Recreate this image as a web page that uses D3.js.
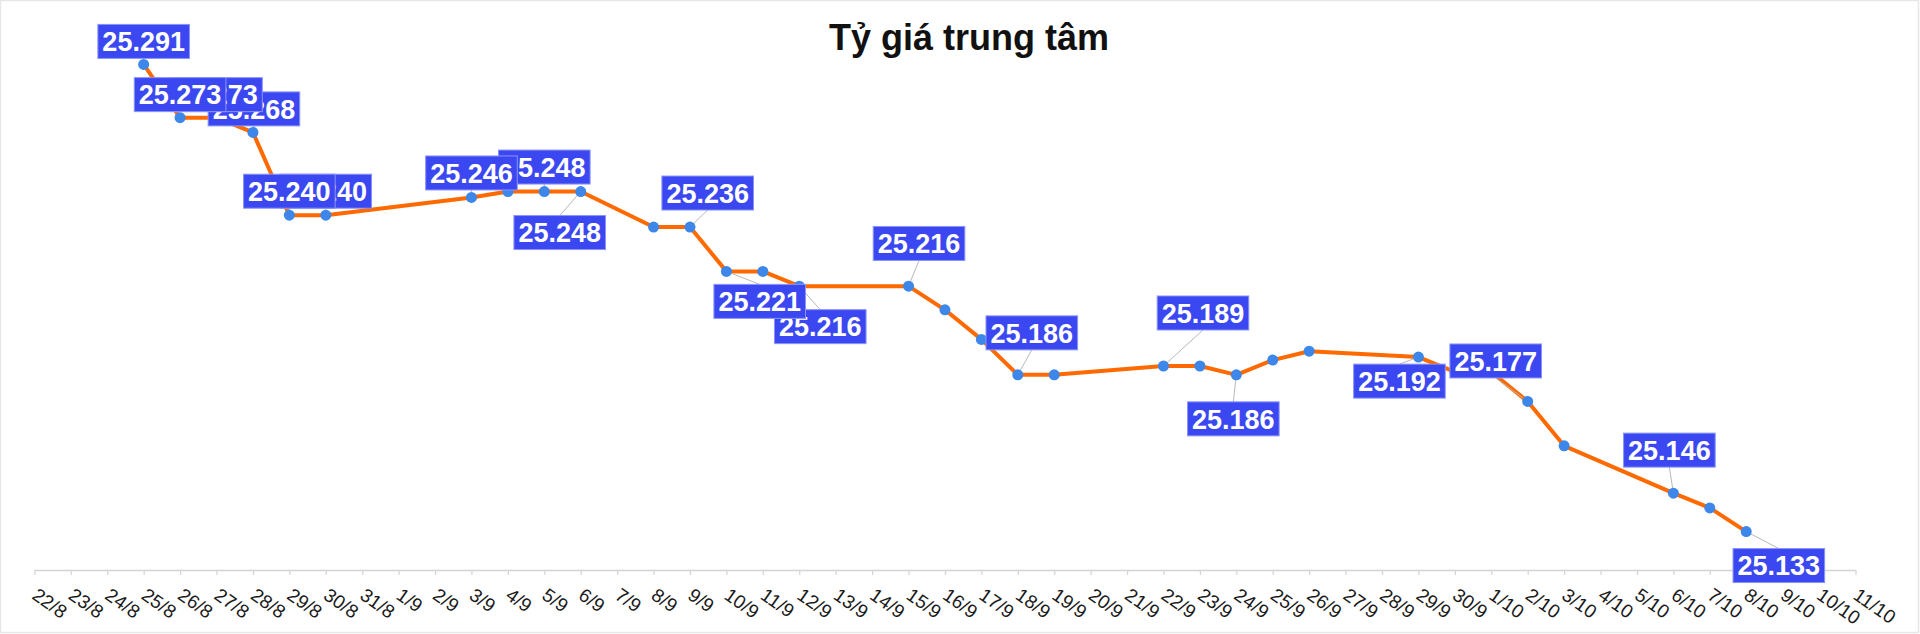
<!DOCTYPE html>
<html>
<head>
<meta charset="utf-8">
<script src="https://cdn.jsdelivr.net/npm/d3@7"></script>
<style>
  html, body { margin: 0; padding: 0; background: #ffffff; }
  svg { display: block; }
</style>
</head>
<body>
<svg id="chart" width="1920" height="634"></svg>
<script>
// ---- data ----
const chartTitle = "Tỷ giá trung tâm";
const dateLabels = ["25/8","26/8","27/8","28/8","29/8","30/8","3/9","4/9","5/9","6/9","8/9","9/9","10/9","11/9","12/9","15/9","16/9","17/9","18/9","19/9","22/9","23/9","24/9","25/9","26/9","29/9","30/9","1/10","2/10","3/10","6/10","7/10","8/10"];
const rates = [25.291,25.273,25.273,25.268,25.240,25.240,25.246,25.248,25.248,25.248,25.236,25.236,25.221,25.221,25.216,25.216,25.208,25.198,25.186,25.186,25.189,25.189,25.186,25.191,25.194,25.192,25.187,25.187,25.177,25.162,25.146,25.141,25.133];
const axisStart = "22/8";
const axisEnd = "11/10";
const yDomain = [25.12, 25.30];
const labelledDates = ["25/8","26/8","27/8","28/8","29/8","30/8","3/9","5/9","6/9","9/9","10/9","12/9","15/9","18/9","22/9","24/9","29/9","2/10","6/10","8/10"];
// layout: label box centre offset from its point (px)
const labelOffsets = [[0,-23],[0,-23],[0,-23],[1,-23.5],[0,-24],[0,-24],[0,-24.5],[0,-24.5],[-21,41],[17.7,-34],[33.3,30],[21,40.5],[10.5,-42.7],[14,-42],[39.5,-53],[-3,44],[-19,24],[-32,-40.5],[-4,-43],[32.6,34]];

const YEAR = 2024;
const parse = s => { const [d, m] = s.split("/").map(Number); return new Date(Date.UTC(YEAR, m - 1, d)); };

const data = dateLabels.map((d, i) => ({ key: d, date: parse(d), value: rates[i] }));
const byKey = new Map(data.map(d => [d.key, d]));

const svg = d3.select("#chart");
const W = 1920, H = 634;

svg.append("rect").attr("x", 0.5).attr("y", 0.5).attr("width", W - 2).attr("height", H - 2)
  .attr("fill", "#fff").attr("stroke", "#e6e6e6").attr("stroke-width", 1.5);

const x = d3.scaleUtc().domain([parse(axisStart), parse(axisEnd)]).range([34.4, 1855.5]);
const y = d3.scaleLinear().domain(yDomain).range([570, 37.8]);

// title
svg.append("text").attr("x", 969).attr("y", 50).attr("text-anchor", "middle")
  .attr("font-family", "Liberation Sans, Arial, sans-serif").attr("font-weight", "bold")
  .attr("font-size", 36).attr("fill", "#111").text(chartTitle);

// x axis
const xAxis = d3.axisBottom(x)
  .ticks(d3.utcDay.every(1))
  .tickFormat(d3.utcFormat("%-d/%-m"))
  .tickSize(5).tickSizeOuter(0);
const gx = svg.append("g").attr("transform", "translate(0,570)").call(xAxis);
gx.select(".domain").attr("stroke", "#d4d4d4").attr("stroke-width", 1.5);
gx.selectAll(".tick line").attr("stroke", "#d4d4d4").attr("stroke-width", 1.2);
gx.selectAll(".tick text")
  .attr("x", 0).attr("y", 0).attr("dy", 0)
  .attr("text-anchor", "start")
  .attr("transform", "translate(-4,28) rotate(35)")
  .attr("font-family", "Liberation Sans, Arial, sans-serif")
  .attr("font-size", 19).attr("fill", "#1a1a1a");

// line
const line = d3.line().x(d => x(d.date)).y(d => y(d.value));
svg.append("path").datum(data).attr("d", line)
  .attr("fill", "none").attr("stroke", "#ff6a00").attr("stroke-width", 4)
  .attr("stroke-linejoin", "round").attr("stroke-linecap", "round");

// labels geometry
const boxH = 34, pad = 4.5;
const labels = labelledDates.map((k, i) => {
  const d = byKey.get(k);
  const px = x(d.date), py = y(d.value);
  return { d, px, py, cx: px + labelOffsets[i][0], cy: py + labelOffsets[i][1], text: d.value.toFixed(3) };
});

// leader lines
svg.append("g").selectAll("line").data(labels).join("line")
  .attr("x1", l => l.px).attr("y1", l => l.py)
  .attr("x2", l => l.cx)
  .attr("y2", l => l.cy > l.py ? l.cy - boxH / 2 : l.cy + boxH / 2)
  .attr("stroke", "#b8b8b8").attr("stroke-width", 1);

// points
svg.append("g").selectAll("circle").data(data).join("circle")
  .attr("cx", d => x(d.date)).attr("cy", d => y(d.value)).attr("r", 5.5)
  .attr("fill", "#3d86ea");

// label boxes (earlier labels drawn on top)
const lg = svg.append("g");
labels.slice().reverse().forEach(l => {
  const g = lg.append("g");
  const t = g.append("text")
    .attr("x", l.cx).attr("y", l.cy + 9.8).attr("text-anchor", "middle")
    .attr("font-family", "Liberation Sans, Arial, sans-serif").attr("font-weight", "bold")
    .attr("font-size", 27).attr("fill", "#fff").text(l.text);
  const w = t.node().getComputedTextLength() + 2 * pad;
  g.insert("rect", "text")
    .attr("x", l.cx - w / 2).attr("y", l.cy - boxH / 2)
    .attr("width", w).attr("height", boxH)
    .attr("fill", "#3b48f2").attr("stroke", "#8a93f8").attr("stroke-width", 1);
});
</script>
</body>
</html>
